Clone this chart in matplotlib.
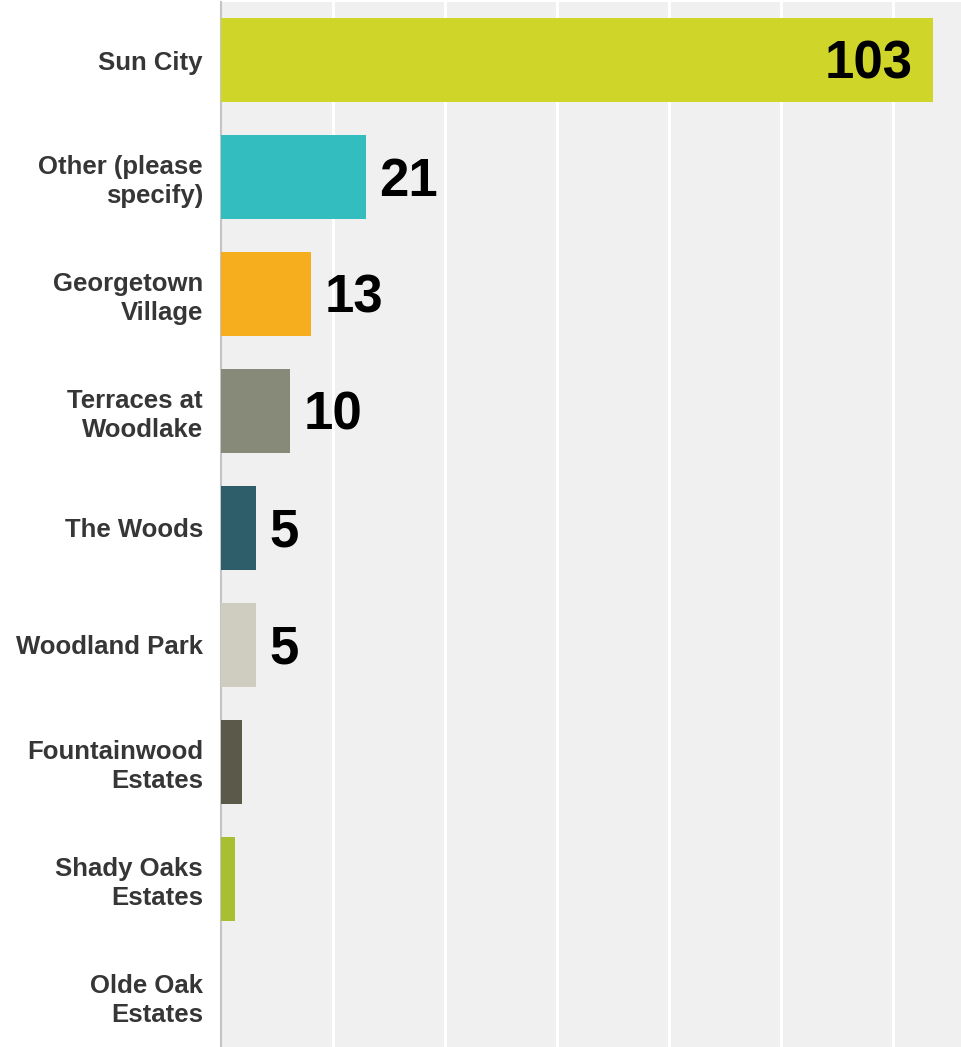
import matplotlib
matplotlib.use("Agg")
import matplotlib.pyplot as plt
import numpy as np

# survey answers, top to bottom
communities = [
    "Sun City",
    "Other (please\nspecify)",
    "Georgetown\nVillage",
    "Terraces at\nWoodlake",
    "The Woods",
    "Woodland Park",
    "Fountainwood\nEstates",
    "Shady Oaks\nEstates",
    "Olde Oak\nEstates",
]
responses = [103, 21, 13, 10, 5, 5, 3, 2, 0]
value_labels = ["103", "21", "13", "10", "5", "5", "", "", ""]
bar_colors = [
    "#d0d52a", "#33bdbf", "#f6ae1f", "#878a78", "#2e5e6a",
    "#cfcdbf", "#5b5a4a", "#a8bf32", "#cccccc",
]

total = sum(responses)
pct = np.array(responses) / total * 100

plt.rcParams["font.family"] = ["Liberation Sans", "DejaVu Sans"]

fig = plt.figure(figsize=(9.61, 10.47), dpi=100)
ax = fig.add_axes([221 / 961, 0, 1 - 221 / 961, 1045 / 1047])
ax.set_facecolor("#f0f0f0")

y = np.arange(len(communities))
ax.barh(y, pct, height=0.72, color=bar_colors, zorder=3)

ax.set_ylim(8.44, -0.496)
ax.set_xlim(0, 66.1)
ax.set_xticks(np.arange(10, 70, 10))
ax.xaxis.grid(True, color="white", linewidth=2.2, zorder=1)
ax.tick_params(axis="x", length=0, labelbottom=False)
ax.tick_params(axis="y", length=0, pad=13)
ax.set_yticks(y)
ax.set_yticklabels(communities, fontsize=18.5, fontweight="bold",
                   color="#363636", linespacing=1.25)

for s in ["top", "right", "bottom"]:
    ax.spines[s].set_visible(False)
ax.spines["left"].set_color("#c4c4c4")
ax.spines["left"].set_linewidth(1.5)

# counts printed next to (or inside) the bars
for i, (p, lab) in enumerate(zip(pct, value_labels)):
    if not lab:
        continue
    if p > 40:
        ax.text(p - 1.8, i + 0.04, lab, ha="right", va="center", fontsize=38,
                fontweight="bold", color="black", zorder=4)
    else:
        ax.text(p + 1.2, i + 0.04, lab, ha="left", va="center", fontsize=38,
                fontweight="bold", color="black", zorder=4)

fig.savefig("out.png", dpi=100)
